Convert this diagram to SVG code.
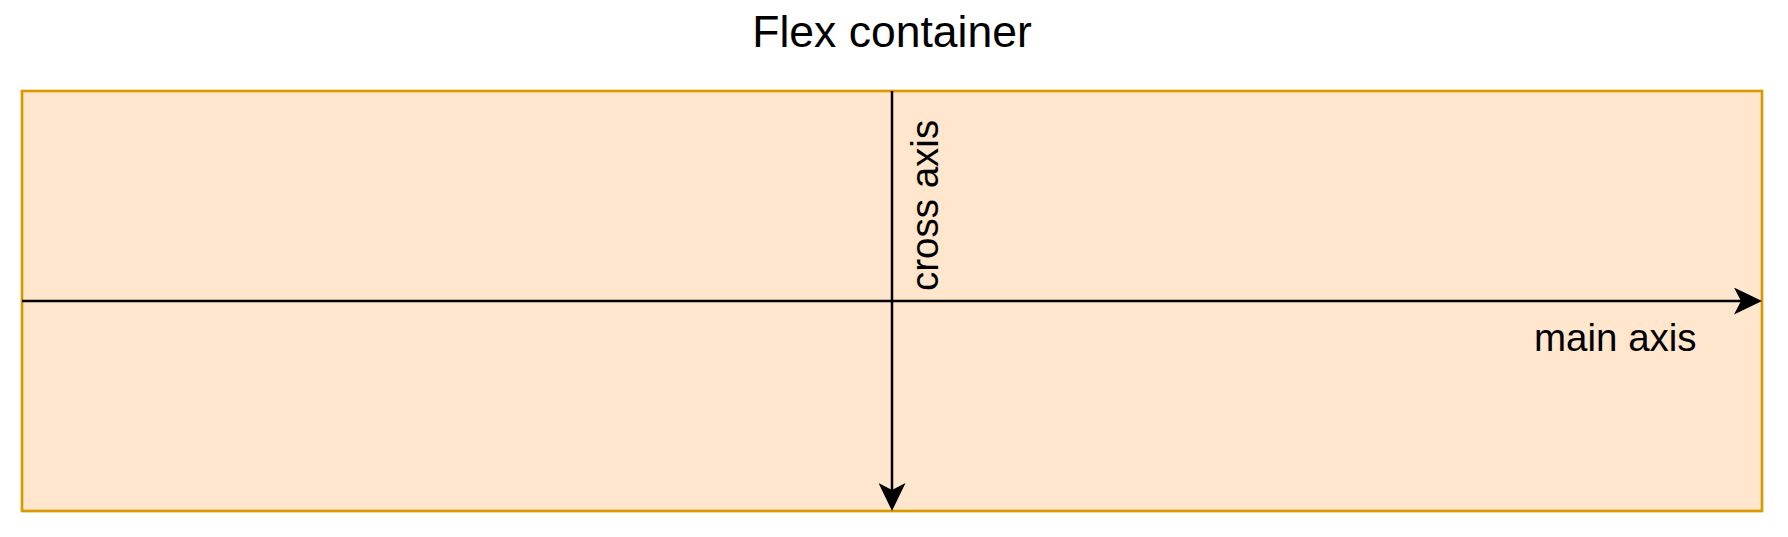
<svg xmlns="http://www.w3.org/2000/svg" width="1788" height="537" viewBox="0 0 1788 537">
<style>
.lbl{font-family:"Liberation Sans",Arial,Helvetica,sans-serif;fill:#000000;}
.axis{stroke:#000000;stroke-width:2.5;fill:none;}
</style>
<defs>
<marker id="arrow" viewBox="0 0 28 27" refX="7" refY="13.5" markerWidth="28" markerHeight="27" markerUnits="userSpaceOnUse" orient="auto">
<path d="M28,13.5 L0,0 L7,13.5 L0,27 Z" fill="#000000"/>
</marker>
</defs>
<rect width="1788" height="537" fill="#ffffff"/>
<g id="title">
<text class="lbl" x="892" y="47" font-size="44.5" text-anchor="middle">Flex container</text>
</g>
<g id="flex-container">
<rect x="22" y="91" width="1740" height="420" fill="#ffe6cc" stroke="#d79b00" stroke-width="2.7"/>
</g>
<g id="connectors">
<path class="axis" d="M22,301 L1741,301" marker-end="url(#arrow)"/>
<path class="axis" d="M892,91 L892,490" marker-end="url(#arrow)"/>
</g>
<g id="main-axis-label">
<text class="lbl" x="1534" y="351" font-size="38.5">main axis</text>
</g>
<g id="cross-axis-label">
<text class="lbl" x="0" y="0" font-size="38.5" transform="translate(937.5,291) rotate(-90)">cross axis</text>
</g>
</svg>
